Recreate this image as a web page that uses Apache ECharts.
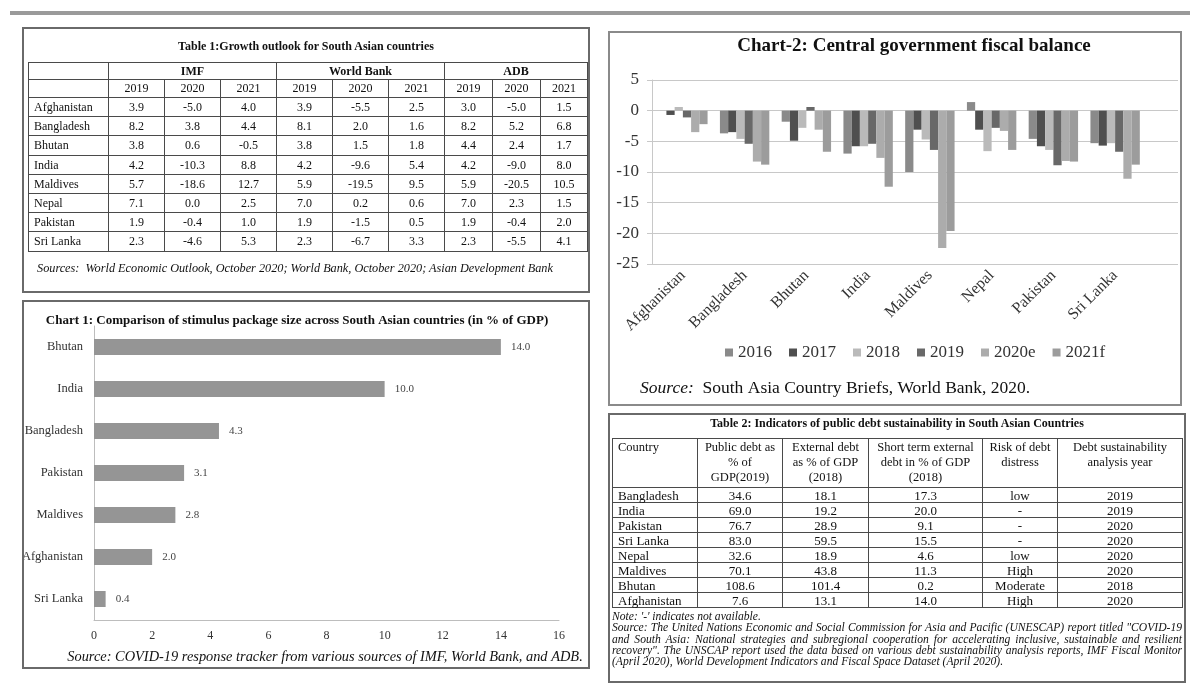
<!DOCTYPE html>
<html><head><meta charset="utf-8">
<script src="https://cdn.jsdelivr.net/npm/echarts@6/dist/echarts.min.js"></script>
<style>
html,body{margin:0;padding:0;background:#fff;width:1197px;height:688px;overflow:hidden;font-family:"Liberation Serif","Times New Roman",serif;color:#111;}
#chart{position:absolute;left:0;top:0;width:1197px;height:688px;z-index:1;}
.box{position:absolute;border:2px solid #6a6a6a;box-sizing:border-box;z-index:2;pointer-events:none;}
.abs{position:absolute;z-index:3;white-space:nowrap;}
table{border-collapse:collapse;table-layout:fixed;}
#t1 td{border:1px solid #4a4a4a;font-size:12px;text-align:center;padding:0;line-height:1;}
#t1 td.c{text-align:left;padding-left:5px;}
#t2 td{border:1px solid #4a4a4a;font-size:13px;text-align:center;padding:0;line-height:1;}
#t2 td.c{text-align:left;padding-left:5px;}
#t2 tr.hd td{vertical-align:top;line-height:15px;padding-top:1px;font-size:12.5px;}
#topline{position:absolute;left:10px;top:11px;width:1180px;height:4px;background:#9a9a9a;}
#notes{left:612px;top:611px;width:570px;font-style:italic;font-size:11.6px;line-height:11.3px;white-space:nowrap;}
#notes div.j{text-align:justify;text-align-last:justify;}
</style></head>
<body>
<div id="chart"></div>
<div id="topline"></div>
<div class="box" style="left:22px;top:27px;width:568px;height:266px;"></div>
<div class="box" style="left:22px;top:300px;width:568px;height:369px;"></div>
<div class="box" style="left:608px;top:31px;width:574px;height:375px;border-color:#8a8a8a;"></div>
<div class="box" style="left:608px;top:413px;width:578px;height:270px;"></div>

<div class="abs" style="left:22px;width:568px;top:39px;text-align:center;font-weight:bold;font-size:12px;">Table 1:Growth outlook for South Asian countries</div>
<div class="abs" style="left:28px;top:62px;"><table id="t1"></table></div>
<div class="abs" style="left:37px;top:261px;font-style:italic;font-size:12.25px;">Sources:&nbsp; World Economic Outlook, October 2020; World Bank, October 2020; Asian Development Bank</div>

<div class="abs" style="left:608px;width:578px;top:416px;text-align:center;font-weight:bold;font-size:12px;">Table 2: Indicators of public debt sustainability in South Asian Countries</div>
<div class="abs" style="left:612px;top:438px;"><table id="t2"></table></div>
<div class="abs" id="notes">
<div>Note: '-' indicates not available.</div>
<div class="j">Source: The United Nations Economic and Social Commission for Asia and Pacific (UNESCAP) report titled "COVID-19</div>
<div class="j">and South Asia: National strategies and subregional cooperation for accelerating inclusive, sustainable and resilient</div>
<div class="j">recovery". The UNSCAP report used the data based on various debt sustainability analysis reports, IMF Fiscal Monitor</div>
<div>(April 2020), World Development Indicators and Fiscal Space Dataset (April 2020).</div>
</div>

<script>
// ---------- Table 1 data ----------
const t1Countries = ['Afghanistan','Bangladesh','Bhutan','India','Maldives','Nepal','Pakistan','Sri Lanka'];
const t1Sources = ['IMF','World Bank','ADB'];
const t1Years = ['2019','2020','2021'];
const t1IMF = [[3.9,-5.0,4.0],[8.2,3.8,4.4],[3.8,0.6,-0.5],[4.2,-10.3,8.8],[5.7,-18.6,12.7],[7.1,0.0,2.5],[1.9,-0.4,1.0],[2.3,-4.6,5.3]];
const t1WB  = [[3.9,-5.5,2.5],[8.1,2.0,1.6],[3.8,1.5,1.8],[4.2,-9.6,5.4],[5.9,-19.5,9.5],[7.0,0.2,0.6],[1.9,-1.5,0.5],[2.3,-6.7,3.3]];
const t1ADB = [[3.0,-5.0,1.5],[8.2,5.2,6.8],[4.4,2.4,1.7],[4.2,-9.0,8.0],[5.9,-20.5,10.5],[7.0,2.3,1.5],[1.9,-0.4,2.0],[2.3,-5.5,4.1]];

// ---------- Table 2 data ----------
const t2Headers = ['Country','Public debt as<br>% of<br>GDP(2019)','External debt<br>as % of GDP<br>(2018)','Short term external<br>debt in % of GDP<br>(2018)','Risk of debt<br>distress','Debt sustainability<br>analysis year'];
const t2Countries = ['Bangladesh','India','Pakistan','Sri Lanka','Nepal','Maldives','Bhutan','Afghanistan'];
const t2PublicDebt = [34.6,69.0,76.7,83.0,32.6,70.1,108.6,7.6];
const t2ExternalDebt = [18.1,19.2,28.9,59.5,18.9,43.8,101.4,13.1];
const t2ShortTerm = [17.3,20.0,9.1,15.5,4.6,11.3,0.2,14.0];
const t2Risk = ['low','-','-','-','low','High','Moderate','High'];
const t2Year = ['2019','2019','2020','2020','2020','2020','2018','2020'];

// ---------- Chart 1 data ----------
const c1Countries = ['Bhutan','India','Bangladesh','Pakistan','Maldives','Afghanistan','Sri Lanka'];
const c1Values = [14.0,10.0,4.3,3.1,2.8,2.0,0.4];

// ---------- Chart 2 data ----------
const c2Countries = ['Afghanistan','Bangladesh','Bhutan','India','Maldives','Nepal','Pakistan','Sri Lanka'];
const c2Years = ['2016','2017','2018','2019','2020e','2021f'];
const fb2016  = [null,-3.7,-1.8,-7.0,-10.0,1.4,-4.6,-5.3];
const fb2017  = [-0.7,-3.5,-4.9,-5.8,-3.1,-3.1,-5.8,-5.7];
const fb2018  = [0.6,-4.6,-2.8,-5.8,-4.7,-6.6,-6.4,-5.3];
const fb2019  = [-1.1,-5.4,0.6,-5.4,-6.4,-2.8,-8.9,-6.7];
const fb2020e = [-3.5,-8.3,-3.1,-7.7,-22.4,-3.3,-8.2,-11.1];
const fb2021f = [-2.2,-8.8,-6.7,-12.4,-19.6,-6.4,-8.3,-8.8];

// ---------- build tables ----------
(function(){
  const t1 = document.getElementById('t1');
  const widths = [80,56,56,56,56,56,56,48,48,47];
  let h = '<colgroup>' + widths.map(w=>'<col style="width:'+w+'px">').join('') + '</colgroup>';
  h += '<tr style="height:16.5px"><td></td>' + t1Sources.map(s=>'<td colspan="3"><b>'+s+'</b></td>').join('') + '</tr>';
  h += '<tr style="height:18.5px"><td></td>' + t1Sources.map(()=>t1Years.map(y=>'<td>'+y+'</td>').join('')).join('') + '</tr>';
  t1Countries.forEach((c,i)=>{
    h += '<tr style="height:19.2px"><td class="c">'+c+'</td>';
    [t1IMF,t1WB,t1ADB].forEach(src=>src[i].forEach(v=>{ h += '<td>'+v.toFixed(1)+'</td>'; }));
    h += '</tr>';
  });
  t1.innerHTML = h;

  const t2 = document.getElementById('t2');
  const w2 = [85,85,86,114,75,125];
  let g = '<colgroup>' + w2.map(w=>'<col style="width:'+w+'px">').join('') + '</colgroup>';
  g += '<tr class="hd" style="height:49px">' + t2Headers.map((x,i)=>'<td'+(i===0?' class="c"':'')+'>'+x+'</td>').join('') + '</tr>';
  t2Countries.forEach((c,i)=>{
    g += '<tr style="height:15px"><td class="c">'+c+'</td><td>'+t2PublicDebt[i].toFixed(1)+'</td><td>'+t2ExternalDebt[i].toFixed(1)+'</td><td>'+t2ShortTerm[i].toFixed(1)+'</td><td>'+t2Risk[i]+'</td><td>'+t2Year[i]+'</td></tr>';
  });
  t2.innerHTML = g;
})();

// ---------- charts ----------
const serif = '"Liberation Serif","Times New Roman",serif';
const c2Colors = ['#8a8a8a','#4f4f4f','#bababa','#686868','#acacac','#9c9c9c'];
const c2Data = [fb2016,fb2017,fb2018,fb2019,fb2020e,fb2021f];

const chart = echarts.init(document.getElementById('chart'), null, {renderer:'canvas'});
const option = {
  animation:false,
  textStyle:{fontFamily:serif},
  grid:[
    {left:94, top:326, width:465, height:294},
    {left:652, top:80, width:494, height:184},
    {left:652, top:80, width:526, height:184}
  ],
  xAxis:[
    {gridIndex:0,type:'value',min:0,max:16,interval:2,
     axisLine:{show:true,lineStyle:{color:'#bdbdbd'}},axisTick:{show:false},splitLine:{show:false},
     axisLabel:{fontSize:12,color:'#333',margin:10,fontFamily:serif}},
    {gridIndex:1,type:'category',data:c2Countries,position:'bottom',
     axisLine:{show:false,onZero:false},axisTick:{show:false},
     axisLabel:{rotate:45,interval:0,fontSize:16,color:'#333',margin:9,fontFamily:serif}},
    {gridIndex:2,type:'value',min:0,max:1,show:false}
  ],
  yAxis:[
    {gridIndex:0,type:'category',inverse:true,data:c1Countries,
     axisLine:{show:true,lineStyle:{color:'#bdbdbd'}},axisTick:{show:false},
     axisLabel:{fontSize:12.5,color:'#333',margin:11,fontFamily:serif}},
    {gridIndex:1,type:'value',min:-25,max:5,interval:5,
     axisLine:{show:true,lineStyle:{color:'#c8c8c8'}},
     axisTick:{show:true,length:5,lineStyle:{color:'#c8c8c8'}},
     splitLine:{show:false},
     axisLabel:{fontSize:17,color:'#333',margin:13,fontFamily:serif}},
    {gridIndex:2,type:'value',min:-25,max:5,interval:5,
     axisLine:{show:false},axisTick:{show:false},axisLabel:{show:false},
     splitLine:{show:true,lineStyle:{color:'#c8c8c8',width:1}}}
  ],
  legend:{data:c2Years,left:720,top:339,itemWidth:8,itemHeight:8,itemGap:17,icon:'rect',selectedMode:false,
    textStyle:{fontSize:17,color:'#333',fontFamily:serif}},
  series:[
    {type:'bar',name:'stimulus',xAxisIndex:0,yAxisIndex:0,data:c1Values,barWidth:16,
     itemStyle:{color:'#959595'},
     label:{show:true,position:'right',distance:10,fontSize:11,color:'#444',fontFamily:serif,
            formatter:p=>Number(p.value).toFixed(1)}}
  ].concat(c2Years.map((y,i)=>({
     type:'bar',name:y,xAxisIndex:1,yAxisIndex:1,data:c2Data[i],
     barGap:'0%',barCategoryGap:'20%',itemStyle:{color:c2Colors[i]}
  }))),
  graphic:[
    {type:'text',x:297,y:321,z:10,style:{text:'Chart 1: Comparison of stimulus package size across South Asian countries (in % of GDP)',
      fontSize:13,fontWeight:'bold',fontFamily:serif,fill:'#111',align:'center',verticalAlign:'middle'}},
    {type:'text',x:325,y:657,z:10,style:{text:'Source: COVID-19 response tracker from various sources of IMF, World Bank, and ADB.',
      fontSize:14.4,fontStyle:'italic',fontFamily:serif,fill:'#111',align:'center',verticalAlign:'middle'}},
    {type:'text',x:914,y:46,z:10,style:{text:'Chart-2: Central government fiscal balance',
      fontSize:19,fontWeight:'bold',fontFamily:serif,fill:'#111',align:'center',verticalAlign:'middle'}},
    {type:'text',x:640,y:388,z:10,style:{text:'{i|Source:}  South Asia Country Briefs, World Bank, 2020.',
      fontSize:17.5,fontFamily:serif,fill:'#111',align:'left',verticalAlign:'middle',
      rich:{i:{fontStyle:'italic',fontSize:17.5,fontFamily:serif,fill:'#111'}}}}
  ]
};
chart.setOption(option);
</script>
</body></html>
